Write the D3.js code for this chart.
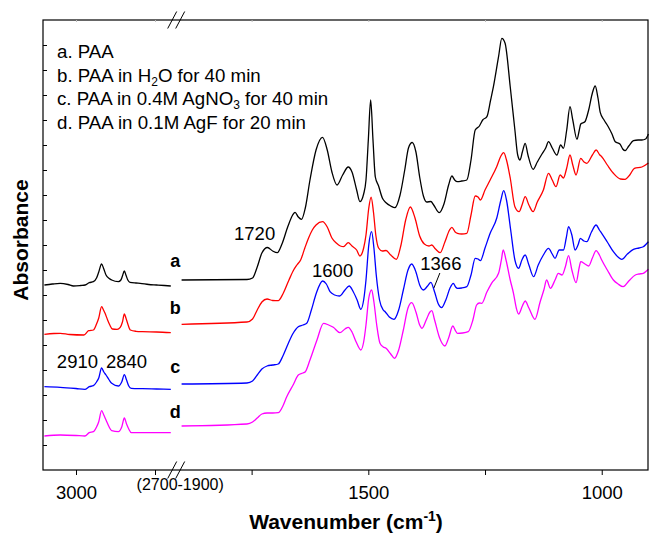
<!DOCTYPE html>
<html>
<head>
<meta charset="utf-8">
<script src="https://cdn.jsdelivr.net/npm/d3@7"></script>
<style>
  html, body { margin: 0; padding: 0; background: #fff; }
  svg { display: block; font-family: "Liberation Sans", Arial, sans-serif; }
</style>
</head>
<body>
<svg id="chart" width="649" height="534"></svg>
<script>
// ---------------- DATA ----------------
// Left panel (C-H stretching region), wavenumber (cm-1) vs absorbance (a.u., offset)
const chA = [[3100,185],[3075,186],[3050,186.7],[3025,185.5],[3008,184],[2985,184.5],[2971,185],[2958,187.3],[2945,188.3],[2935,192],[2928,198],[2919,206],[2912,201],[2905,195],[2895,191.5],[2887,190],[2866,188.3],[2858,190],[2853,194],[2847,199],[2842,195],[2836,190],[2829,187.7],[2810,187],[2797,186.7],[2770,185.5],[2745,185],[2720,184.5],[2700,184]];
const chB = [[3100,135.7],[3070,136.5],[3050,136.7],[3020,135.5],[2975,135],[2960,139.3],[2945,140],[2935,146],[2928,152],[2919,163.3],[2913,160],[2908,156.7],[2900,150],[2893,145],[2885,141],[2870,140.7],[2860,142.7],[2853,148],[2847,156],[2842,152],[2836,146],[2828,140],[2810,138.7],[2790,138.3],[2745,138],[2700,137.3]];
const chC = [[3100,83.3],[3050,82.7],[3000,81.5],[2972,80.7],[2958,83.3],[2945,84.3],[2935,88],[2928,92],[2919,102],[2912,98],[2905,95],[2895,90],[2887,86.7],[2866,84],[2855,88.3],[2847,95.3],[2840,90],[2833,84],[2825,81.7],[2790,81.3],[2745,81],[2700,80.7]];
const chD = [[3100,34],[3050,35],[3000,34.5],[2972,34],[2958,37.3],[2945,38.3],[2935,43],[2928,48.3],[2919,59.3],[2912,55],[2905,50],[2895,43],[2887,39.3],[2866,38.3],[2855,43.3],[2847,52],[2840,46],[2833,41],[2825,37.3],[2790,37.3],[2745,37.3],[2700,37.3]];

// Right panel (fingerprint region 1900-900 cm-1)
const fpA = [[1900,190],[1760,190.5],[1748,192],[1738,203],[1728,217],[1716,222.5],[1705,219],[1695,217.3],[1685,226],[1672,244],[1662,255],[1657,257.7],[1650,253],[1643,250.7],[1635,262],[1625,290],[1612,320],[1598,332.7],[1588,320],[1578,298],[1567,285],[1555,295],[1543,303],[1535,298],[1525,280],[1518,268.3],[1510,276],[1505,290],[1500,330],[1495,370],[1490,330],[1485,293],[1478,284],[1470,272],[1462,267.3],[1452,264],[1443,262.3],[1432,275],[1422,300],[1414,322],[1406,327.5],[1398,318],[1390,293],[1382,274],[1375,268],[1366,268.5],[1360,265],[1348,257.3],[1338,266],[1328,285],[1321,294],[1315,290],[1309,288.3],[1300,289],[1289,290],[1280,310],[1271,340],[1262,344],[1255,350],[1246,353.3],[1238,370],[1232,383.3],[1221,413.3],[1214,431.7],[1207,426.7],[1196,383.3],[1186,340],[1180,315],[1175,310],[1170,318],[1164,326.7],[1158,315],[1147,300.7],[1138,308],[1128,316],[1120,322],[1114,328.3],[1106,322],[1096,315],[1088,325],[1082,321.7],[1075,340],[1068,363.3],[1062,350],[1053,330.7],[1048,340],[1045,346],[1036,348.3],[1028,360],[1020,377],[1014,384],[1008,372],[1003,357.3],[995,350],[986,343.3],[978,336],[971,328.3],[961,326],[955,321],[950,319.3],[942,324],[932,329.3],[922,330],[914,330],[906,331],[900,336]];
const fpB = [[1900,145.7],[1760,148],[1748,151],[1738,160],[1728,168],[1717,171],[1705,169.5],[1693,169.3],[1683,176],[1670,190],[1660,200],[1653,205],[1645,210],[1636,222],[1628,232],[1620,240],[1612,245],[1598,248.3],[1588,243],[1578,232],[1568,226.7],[1560,224],[1553,223.3],[1543,227.3],[1535,224],[1525,220],[1518,214],[1510,222],[1505,235],[1499,262],[1494,272.8],[1489,258],[1484,235],[1478,222],[1470,219],[1462,219.5],[1452,215],[1440,210.7],[1430,225],[1420,250],[1410,263],[1400,252],[1390,234],[1380,226],[1370,224],[1364,225],[1356,221],[1346,217.3],[1336,228],[1326,240],[1321,242.7],[1314,238],[1309,236.7],[1300,236],[1289,236.7],[1280,255],[1271,274],[1265,273],[1260,270],[1250,280],[1239,290],[1225,303.3],[1216,314],[1210,317.3],[1204,310],[1196,292],[1186,263.3],[1177,258.3],[1170,266],[1164,273.3],[1156,265],[1147,258.3],[1138,268],[1125,280],[1114,296.7],[1106,290],[1098,283.3],[1089,295],[1082,292],[1075,302],[1068,315],[1062,305],[1055,295],[1045,311.7],[1038,308],[1032,306.7],[1020,315],[1012,320],[1004,315],[1000,313.3],[988,305],[975,296.7],[960,291],[950,290.7],[940,295],[930,301.7],[914,303],[900,307]];
const fpC = [[1900,86],[1760,87],[1748,89],[1738,95],[1728,101],[1717,104],[1705,105],[1693,106],[1683,114],[1672,126],[1662,136],[1650,143.3],[1640,145],[1632,146.7],[1622,160],[1612,176],[1598,189],[1590,186],[1582,178.3],[1572,175],[1562,174],[1550,180],[1541,184],[1532,178],[1524,170],[1516,160.7],[1510,170],[1505,190],[1499,225],[1493,238.3],[1488,222],[1483,195],[1476,170],[1468,160],[1464,158.3],[1455,153],[1445,150.7],[1435,160],[1425,180],[1415,200],[1407,206],[1398,198],[1390,185],[1382,180],[1373,184],[1366,187.7],[1358,178],[1350,166],[1343,162.3],[1334,170],[1325,182],[1318,186.7],[1313,183],[1309,181.7],[1300,182],[1289,183.3],[1280,195],[1271,211.7],[1265,211],[1260,209.3],[1250,222],[1239,236.7],[1225,251.7],[1216,270],[1210,279.3],[1204,270],[1195,240],[1186,210],[1178,201.7],[1171,210],[1164,215],[1156,205],[1146,193.3],[1136,205],[1125,215],[1114,221.7],[1106,216],[1100,211.7],[1091,220],[1082,220],[1076,232],[1071,243.3],[1064,235],[1057,220],[1050,226],[1046,231.7],[1038,229],[1032,228.3],[1022,238],[1012,245],[1005,240],[1000,236.7],[988,228],[975,218.3],[965,213],[957,210.7],[945,216],[932,220.7],[920,222],[911,223.3],[900,228.3]];
const fpD = [[1900,44],[1760,46],[1748,48],[1738,52],[1728,56],[1717,57],[1705,57],[1693,57.3],[1683,64],[1675,73],[1660,86],[1650,95],[1640,97],[1635,98.3],[1625,110],[1610,130],[1596,146.7],[1585,145],[1575,142.7],[1561,137.3],[1550,141],[1543,142.7],[1535,138],[1526,128],[1516,120],[1510,128],[1505,145],[1499,172],[1493,180],[1488,168],[1482,145],[1475,126.7],[1468,123],[1462,121.7],[1452,116],[1444,111.7],[1435,120],[1425,140],[1415,162],[1407,167.3],[1398,158],[1390,145],[1385,141.7],[1376,150],[1368,158],[1364,159.3],[1358,150],[1348,133],[1336,124],[1328,132],[1319,144],[1313,139],[1309,136.7],[1298,137],[1286,138.3],[1276,150],[1268,165],[1262,167],[1257,166.7],[1246,178],[1236,186.7],[1221,196.7],[1215,210],[1211,220],[1205,210],[1196,190],[1189,176.7],[1183,162],[1178,156],[1170,164],[1164,169],[1156,162],[1143,150.7],[1132,168],[1124,180],[1118,190],[1110,181.7],[1100,190],[1093,196.7],[1085,195],[1078,203],[1071,214.3],[1064,200],[1055,187.3],[1048,203],[1045,208.3],[1036,206],[1028,204],[1020,212],[1012,219.3],[1005,215],[1000,210],[988,200],[975,190],[965,186],[954,183.3],[942,189],[928,195],[920,196],[911,196.7],[900,200.7]];

const seriesKeys = ["a","b","c","d"];
const seriesColors = ["#000000","#ff0000","#0000ff","#ff00ff"];
const leftSpectra = [chA, chB, chC, chD];
const rightSpectra = [fpA, fpB, fpC, fpD];

const legendLines = [
  [["a. PAA", null]],
  [["b. PAA in H", null], ["2", "sub"], ["O for 40 min", null]],
  [["c. PAA in 0.4M AgNO", null], ["3", "sub"], [" for 40 min", null]],
  [["d. PAA in 0.1M AgF for 20 min", null]]
];
const leftTicks = [3000, 2750];
const leftTickLabels = [3000];
const rightTicks = [1750, 1500, 1250, 1000];
const rightTickLabels = [1500, 1000];
const yTicks = d3.range(25, 450, 25);
const peakLabels = [ // [panel, wavenumber, label]
  ["R", 1720, "1720"], ["R", 1600, "1600"], ["R", 1366, "1366"],
  ["L", 2910, "2910"], ["L", 2840, "2840"]
];

// ---------------- LAYOUT ----------------
const svg = d3.select("#chart");
const plot = {left: 43, right: 648, top: 20, bottom: 470};
const xL = d3.scaleLinear().domain([3100, 2700]).range([44.4, 170.8]);
const xR = d3.scaleLinear().domain([1900, 900]).range([181.6, 648.4]);
const y = d3.scaleLinear().domain([0, 450]).range([plot.bottom, plot.top]);

svg.append("rect").attr("width", 649).attr("height", 534).attr("fill", "#fff");

// spectra
const lineL = d3.line().x(d => xL(d[0])).y(d => y(d[1])).curve(d3.curveMonotoneX);
const lineR = d3.line().x(d => xR(d[0])).y(d => y(d[1])).curve(d3.curveMonotoneX);
leftSpectra.forEach((s, i) => {
  svg.append("path").attr("d", lineL(s)).attr("fill", "none")
    .attr("stroke", seriesColors[i]).attr("stroke-width", 1.3);
});
rightSpectra.forEach((s, i) => {
  svg.append("path").attr("d", lineR(s)).attr("fill", "none")
    .attr("stroke", seriesColors[i]).attr("stroke-width", 1.3);
});

// frame
svg.append("rect").attr("x", plot.left).attr("y", plot.top)
  .attr("width", plot.right - plot.left).attr("height", plot.bottom - plot.top)
  .attr("fill", "none").attr("stroke", "#000").attr("stroke-width", 1.2);

// y axis ticks (inward, no labels)
const gy = svg.append("g").attr("transform", `translate(${plot.left},0)`)
  .call(d3.axisLeft(y).tickValues(yTicks).tickSize(-4).tickFormat(""));
gy.select(".domain").remove();
gy.selectAll(".tick line").attr("stroke", "#000").attr("stroke-width", 1);

// bottom axes
function styleAxis(g) {
  g.select(".domain").remove();
  g.selectAll(".tick line").attr("stroke", "#000").attr("stroke-width", 1);
  g.selectAll(".tick text").attr("y", 16).attr("font-size", 18.5)
    .attr("font-family", "Liberation Sans, Arial, sans-serif").attr("fill", "#000");
}
svg.append("g").attr("transform", `translate(0,${plot.bottom})`)
  .call(d3.axisBottom(xL).tickValues(leftTicks).tickSize(5)
    .tickFormat(d => leftTickLabels.includes(d) ? d : ""))
  .call(styleAxis);
svg.append("g").attr("transform", `translate(0,${plot.bottom})`)
  .call(d3.axisBottom(xR).tickValues(rightTicks).tickSize(5)
    .tickFormat(d => rightTickLabels.includes(d) ? d : ""))
  .call(styleAxis);

// faint top ticks
[[xL, leftTicks], [xR, rightTicks]].forEach(([sc, tv]) => {
  const g = svg.append("g").attr("transform", `translate(0,${plot.top})`)
    .call(d3.axisTop(sc).tickValues(tv).tickSize(-2).tickFormat(""));
  g.select(".domain").remove();
  g.selectAll(".tick line").attr("stroke", "#bbb");
});

// break marks
const xb = (xL(2700) + xR(1900)) / 2;
[plot.top, plot.bottom].forEach(yy => {
  [-4, 4].forEach(off => {
    svg.append("line")
      .attr("x1", xb + off - 4.5).attr("y1", yy + 8.5)
      .attr("x2", xb + off + 4.5).attr("y2", yy - 8.5)
      .attr("stroke", "#000").attr("stroke-width", 1);
  });
});
svg.append("text").attr("x", xb + 4).attr("y", 490).attr("text-anchor", "middle")
  .attr("font-size", 16).text("(2700-1900)");

// legend text
legendLines.forEach((parts, i) => {
  const t = svg.append("text").attr("x", 57).attr("y", 58 + i * 23.5).attr("font-size", 18.7);
  parts.forEach(([txt, kind]) => {
    const ts = t.append("tspan").text(txt);
    if (kind === "sub") ts.attr("font-size", 12).attr("dy", 4);
    else if (t.selectAll("tspan").size() > 1) ts.attr("dy", -4);
  });
});

// series letters
const letterY = [266.5, 313.5, 373, 418];
seriesKeys.forEach((k, i) => {
  svg.append("text").attr("x", xb - 1).attr("y", letterY[i]).attr("text-anchor", "middle")
    .attr("font-size", 18).attr("font-weight", "bold").text(k);
});

// peak annotations
const annot = {
  "1720": {dx: -11, y: 240}, "1600": {dx: 11, y: 277}, "1366": {dx: 10, y: 270},
  "2910": {dx: -27, y: 368}, "2840": {dx: 0, y: 368}
};
peakLabels.forEach(([p, wn, lab]) => {
  const sc = p === "L" ? xL : xR;
  const a = annot[lab];
  svg.append("text").attr("x", sc(wn) + a.dx).attr("y", a.y).attr("text-anchor", "middle")
    .attr("font-size", 18.5).text(lab);
});
// leader line for 1366
svg.append("line").attr("x1", xR(1366) + 9).attr("y1", 273).attr("x2", xR(1366) + 3).attr("y2", 288)
  .attr("stroke", "#000").attr("stroke-width", 1);

// axis titles
svg.append("text").attr("transform", "translate(28,240) rotate(-90)")
  .attr("text-anchor", "middle").attr("font-size", 21).attr("font-weight", "bold").text("Absorbance");
const xt = svg.append("text").attr("x", 346).attr("y", 529).attr("text-anchor", "middle")
  .attr("font-size", 21).attr("font-weight", "bold");
xt.append("tspan").text("Wavenumber (cm");
xt.append("tspan").attr("font-size", 14).attr("dy", -8).text("-1");
xt.append("tspan").attr("dy", 8).text(")");
</script>
</body>
</html>
